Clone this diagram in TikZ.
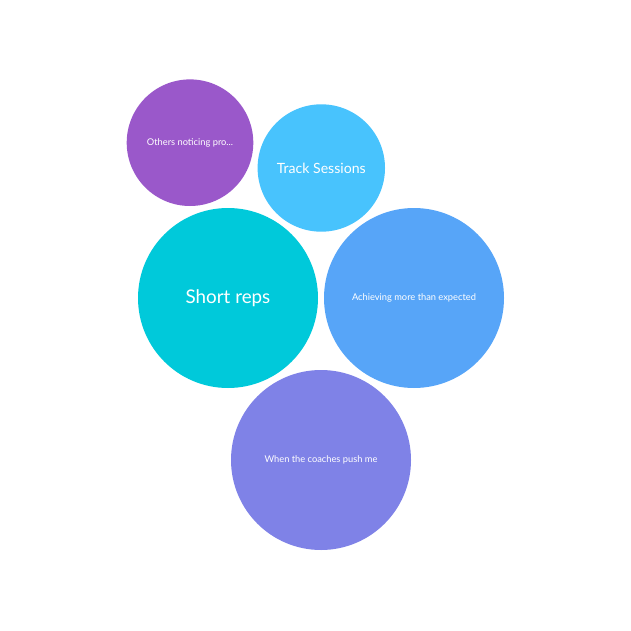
\documentclass[tikz,border=0pt]{standalone}
\usepackage{fontspec}
\setmainfont{Lato}
\definecolor{cpurple}{HTML}{9A58CA}
\definecolor{clight}{HTML}{48C3FD}
\definecolor{cteal}{HTML}{00C9DA}
\definecolor{cblue}{HTML}{57A5F8}
\definecolor{cviolet}{HTML}{7F82E7}
\tikzset{
  bubble/.style={circle, inner sep=0pt, text=white, align=center},
  small/.style={font=\fontsize{9.3}{11}\selectfont},
}
\begin{document}
\begin{tikzpicture}[x=1pt,y=-1pt]
\useasboundingbox (0,0) rectangle (631,631);
\node[bubble, fill=cpurple, minimum size=126.6pt, small] (others) at (190,142.7) {Others noticing pro...};
\node[bubble, fill=clight, minimum size=127.4pt, font=\fontsize{14.1}{16}\selectfont] (track) at (321.3,168) {Track Sessions};
\node[bubble, fill=cteal, minimum size=180pt, font=\fontsize{18.8}{22}\selectfont] (short) at (228,298) {Short reps};
\node[bubble, fill=cblue, minimum size=180pt, small] (achieve) at (414,298) {Achieving more than expected};
\node[bubble, fill=cviolet, minimum size=180pt, small] (coach) at (321,460) {When the coaches push me};
\end{tikzpicture}
\end{document}
